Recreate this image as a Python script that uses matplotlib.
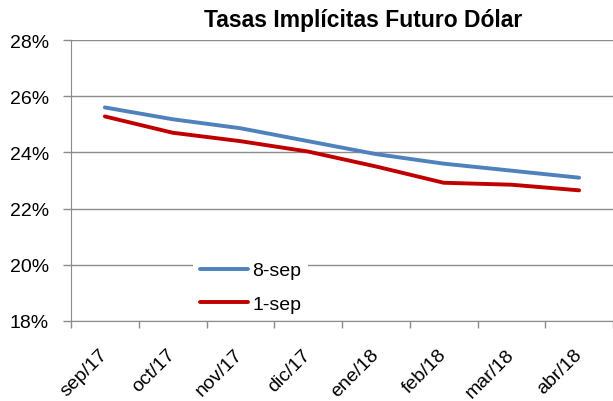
import matplotlib
matplotlib.use('Agg')
import matplotlib.pyplot as plt
import numpy as np

months = ['sep/17', 'oct/17', 'nov/17', 'dic/17', 'ene/18', 'feb/18', 'mar/18', 'abr/18']
sep8 = [25.60, 25.18, 24.86, 24.40, 23.94, 23.60, 23.35, 23.10]
sep1 = [25.28, 24.70, 24.40, 24.03, 23.50, 22.92, 22.85, 22.65]
yticks = [18, 20, 22, 24, 26, 28]

plt.rcParams['font.family'] = ['Liberation Sans', 'DejaVu Sans']

fig = plt.figure(figsize=(6.13, 4.02), dpi=100)
ax = fig.add_axes([71 / 613, 1 - 322 / 402, 1 - 71 / 613, (322 - 41) / 402])

x = np.arange(len(months))
ax.plot(x, sep8, color='#4F81BD', lw=2.8, label='8-sep', solid_capstyle='round')
ax.plot(x, sep1, color='#C00000', lw=2.8, label='1-sep', solid_capstyle='round')

ax.set_ylim(18, 28)
ax.set_xlim(-0.5, 7.4)
ax.set_yticks(yticks)
ax.set_yticklabels([f'{v}%' for v in yticks], fontsize=14)
ax.yaxis.grid(True, color='#8c8c8c', lw=1)
ax.set_axisbelow(True)

ax.set_xticks(x)
ax.set_xticklabels(months, fontsize=14, rotation=45, ha='right', va='center', rotation_mode='anchor')
ax.set_xticks(np.arange(-0.5, 8, 1), minor=True)
ax.tick_params(axis='x', which='major', length=0, pad=22)
ax.tick_params(axis='x', which='minor', length=5, color='#8c8c8c', width=1)
ax.tick_params(axis='y', length=6, color='#8c8c8c', width=1, pad=10)

for s in ['top', 'right']:
    ax.spines[s].set_visible(False)
for s in ['left', 'bottom']:
    ax.spines[s].set_color('#8c8c8c')
    ax.spines[s].set_zorder(6)

leg = ax.legend(loc='upper left', bbox_to_anchor=(193 / 613, 1 - 256 / 402), bbox_transform=fig.transFigure,
                frameon=True, fontsize=14, handlelength=2.5, handletextpad=0.2, labelspacing=0.8,
                borderaxespad=0, borderpad=0.35)
leg.get_frame().set_edgecolor('none')
leg.get_frame().set_facecolor('white')
leg.get_frame().set_alpha(1)

fig.text(363 / 613, 1 - 21 / 402, 'Tasas Implícitas Futuro Dólar', ha='center', va='center',
         fontsize=16.5, fontweight='bold')

fig.savefig('out.png', dpi=100)
